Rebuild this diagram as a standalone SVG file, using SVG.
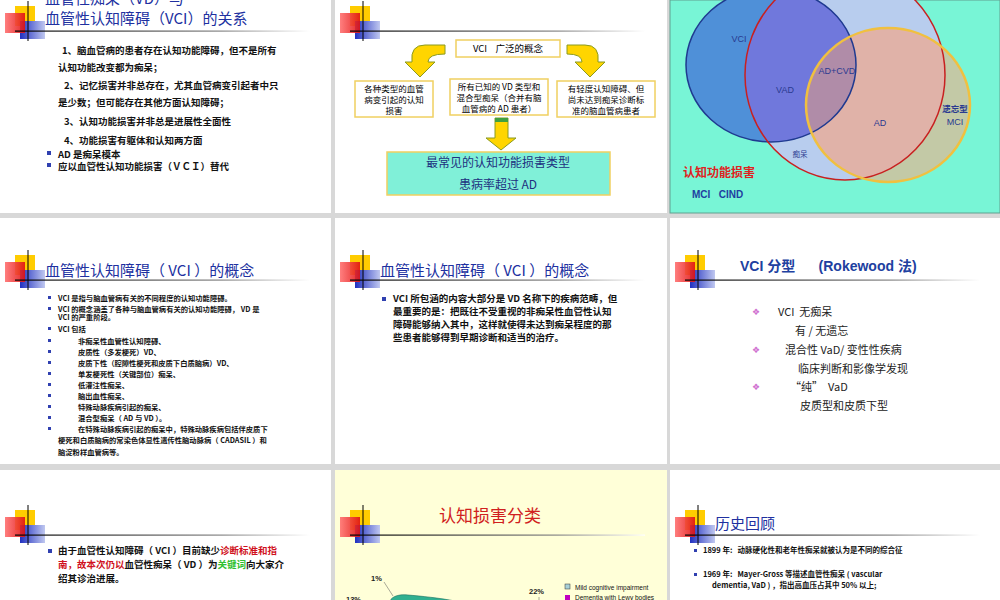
<svg xmlns="http://www.w3.org/2000/svg" width="1000" height="600" viewBox="0 0 1000 600">
<style>
text{white-space:pre}
.t{font-family:"Noto Sans CJK SC","Liberation Sans",sans-serif}
.h{font-family:"Noto Sans CJK SC",sans-serif;font-size:15px;fill:#2030a0}
.b{font-family:"Noto Sans CJK SC",sans-serif;font-size:9.5px;fill:#111;font-weight:bold}
.s{font-family:"Noto Sans CJK SC",sans-serif;font-size:7.3px;fill:#111;font-weight:bold}
.bx{fill:#fff;stroke:#f0d060;stroke-width:1.5}
.bl{fill:#3040b0}
.v{font-family:"Liberation Sans",sans-serif;font-size:9px;fill:#2a3a90}
</style>
<defs>
<linearGradient id="fade" x1="0" x2="1"><stop offset="0" stop-color="#000"/><stop offset="0.7" stop-color="#888"/><stop offset="1" stop-color="#fff"/></linearGradient>
<linearGradient id="rg" x1="0" x2="1"><stop offset="0" stop-color="#ff7070"/><stop offset="1" stop-color="#e01010"/></linearGradient>
<linearGradient id="bg" x1="0" x2="1"><stop offset="0" stop-color="#2030c0"/><stop offset="1" stop-color="#c0c8f0"/></linearGradient>
<symbol id="logo" overflow="visible">
<rect x="15" y="-25" width="20" height="20" fill="#ffcc00"/>
<rect x="20" y="-10" width="25" height="18" fill="url(#bg)"/>
<rect x="5" y="-18" width="20" height="20" fill="url(#rg)" opacity="0.9"/>
<line x1="28" y1="-30" x2="28" y2="10" stroke="#000" stroke-width="1"/>
<rect x="15" y="-0.5" width="295" height="1.2" fill="url(#fade)"/>
</symbol>
<clipPath id="cVCI"><ellipse cx="771" cy="65" rx="85" ry="77"/></clipPath>
<clipPath id="cRed"><ellipse cx="845" cy="75" rx="100" ry="105"/></clipPath>
<clipPath id="cYel"><ellipse cx="888" cy="105" rx="82" ry="77"/></clipPath>
</defs>
<rect width="1000" height="600" fill="#d8d8d8"/>

<g id="p1">
<rect x="0" y="0" width="331" height="213" fill="#fff"/>
<use href="#logo" x="0" y="31"/>
<text class="h" x="45" y="4">血管性痴呆（VD）与</text>
<text class="h" x="45" y="24">血管性认知障碍（VCI）的关系</text>
<g class="b">
<text x="62" y="54">1、脑血管病的患者存在认知功能障碍，但不是所有</text>
<text x="58" y="71">认知功能改变都为痴呆；</text>
<text x="64" y="89">2、记忆损害并非总存在，尤其血管病变引起者中只</text>
<text x="58" y="106">是少数；但可能存在其他方面认知障碍；</text>
<text x="64" y="125">3、认知功能损害并非总是进展性全面性</text>
<text x="64" y="144">4、功能损害有躯体和认知两方面</text>
<text x="58" y="158">AD 是痴呆模本</text>
<text x="58" y="170">应以血管性认知功能损害（ＶＣＩ）替代</text>
</g>
<rect class="bl" x="47" y="151" width="4" height="4"/><rect class="bl" x="47" y="163" width="4" height="4"/>
</g>

<g id="p2">
<rect x="335" y="0" width="332" height="213" fill="#fff"/>
<use href="#logo" x="335" y="31"/>
<g id="connectors">
<path d="M445,45 L425,45 Q410,45 412,62 L405,62 L420,77 L435,62 L428,62 Q428,54 445,54 Z" fill="#ffd500" stroke="#8a9a20" stroke-width="1"/>
<path d="M567,45 L585,45 Q600,45 598,62 L605,62 L590,77 L575,62 L582,62 Q582,54 567,54 Z" fill="#ffd500" stroke="#8a9a20" stroke-width="1"/>
<path d="M495,118 L508,118 L508,138 L516,138 L501,150 L486,138 L495,138 Z" fill="#ffd500" stroke="#8a9a20" stroke-width="1"/>
<rect x="495" y="118" width="13" height="4" fill="#40a040"/>
</g>
<g id="n_vci"><rect class="bx" x="456" y="40" width="104" height="17"/><text class="t" x="508" y="52" font-size="9.5" text-anchor="middle">VCI    广泛的概念</text></g>
<g id="n_a"><rect class="bx" x="355" y="81" width="78" height="36"/><g class="t" font-size="8.5" text-anchor="middle"><text x="394" y="92">各种类型的血管</text><text x="394" y="103">病变引起的认知</text><text x="394" y="114">损害</text></g></g>
<g id="n_b"><rect class="bx" x="450" y="79" width="98" height="36"/><g class="t" font-size="8.5" text-anchor="middle"><text x="499" y="90">所有已知的 VD 类型和</text><text x="499" y="101">混合型痴呆（合并有脑</text><text x="499" y="112">血管病的 AD 患者）</text></g></g>
<g id="n_c"><rect class="bx" x="557" y="81" width="98" height="36"/><g class="t" font-size="8.5" text-anchor="middle"><text x="606" y="92">有轻度认知障碍、但</text><text x="606" y="103">尚未达到痴呆诊断标</text><text x="606" y="114">准的脑血管病患者</text></g></g>
<g id="n_d"><rect x="387" y="152" width="223" height="43" fill="#80f0d8" stroke="#f0d060" stroke-width="1.5"/><g class="t" font-size="12" fill="#203080" text-anchor="middle"><text x="498" y="167">最常见的认知功能损害类型</text><text x="498" y="189">患病率超过 AD</text></g></g>
</g>

<g id="p3">
<rect x="670" y="0" width="330" height="213" fill="#78f5d6" stroke="#60a090"/>
<ellipse cx="845" cy="75" rx="100" ry="105" fill="#b8cdee"/>
<ellipse cx="771" cy="65" rx="85" ry="77" fill="#4f90d8"/>
<ellipse cx="845" cy="75" rx="100" ry="105" fill="#7078dc" clip-path="url(#cVCI)"/>
<ellipse cx="888" cy="105" rx="82" ry="77" fill="#c3c9a6"/>
<ellipse cx="845" cy="75" rx="100" ry="105" fill="#e0b2a8" clip-path="url(#cYel)"/>
<g clip-path="url(#cYel)"><ellipse cx="771" cy="65" rx="85" ry="77" fill="#b08ca8" clip-path="url(#cRed)"/></g>
<ellipse cx="771" cy="65" rx="85" ry="77" fill="none" stroke="#1f3a90" stroke-width="1.5"/>
<ellipse cx="845" cy="75" rx="100" ry="105" fill="none" stroke="#c82020" stroke-width="1.5"/>
<ellipse cx="888" cy="105" rx="82" ry="77" fill="none" stroke="#f0c040" stroke-width="2.5"/>
<text class="v" x="739" y="42" text-anchor="middle">VCI</text>
<text class="v" x="837" y="74" text-anchor="middle">AD+CVD</text>
<text class="v" x="785" y="93" text-anchor="middle">VAD</text>
<text class="v" x="880" y="126" text-anchor="middle">AD</text>
<text class="t" x="955" y="112" font-size="8.5" fill="#2a3a90" text-anchor="middle" font-weight="bold">遗忘型</text>
<text class="v" x="955" y="125" text-anchor="middle">MCI</text>
<text class="t" x="800" y="157" font-size="7.5" fill="#2a3a90" text-anchor="middle">痴呆</text>
<text class="t" x="683" y="177" font-size="12" fill="#e02020" font-weight="bold">认知功能损害</text>
<text x="692" y="198" font-family="Liberation Sans,sans-serif" font-size="10" font-weight="bold" fill="#2040a0">MCI   CIND</text>
</g>

<g id="p4">
<rect x="0" y="218" width="331" height="246" fill="#fff"/>
<use href="#logo" x="0" y="280"/>
<text class="h" x="45" y="276">血管性认知障碍（ VCI ）的概念</text>
<g class="s">
<text x="58" y="301">VCI 是指与脑血管病有关的不同程度的认知功能障碍。</text>
<text x="58" y="312">VCI 的概念涵盖了各种与脑血管病有关的认知功能障碍， VD 是</text>
<text x="58" y="320">VCI 的严重阶段。</text>
<text x="58" y="332">VCI 包括</text>
<text x="78" y="344">非痴呆性血管性认知障碍、</text>
<text x="78" y="355">皮质性（多发梗死）VD、</text>
<text x="78" y="366">皮质下性（腔隙性梗死和皮质下白质脑病）VD、</text>
<text x="78" y="377">单发梗死性（关键部位）痴呆、</text>
<text x="78" y="388">低灌注性痴呆、</text>
<text x="78" y="399">脑出血性痴呆、</text>
<text x="78" y="410">特殊动脉疾病引起的痴呆、</text>
<text x="78" y="421">混合型痴呆（ AD 与 VD ）。</text>
<text x="78" y="432">在特殊动脉疾病引起的痴呆中，特殊动脉疾病包括伴皮质下</text>
<text x="58" y="443">梗死和白质脑病的常染色体显性遗传性脑动脉病（ CADASIL ）和</text>
<text x="58" y="455">脑淀粉样血管病等。</text>
</g>
<g class="bl"><rect x="48" y="296" width="3" height="3"/><rect x="48" y="307" width="3" height="3"/><rect x="48" y="327" width="3" height="3"/><rect x="48" y="339" width="3" height="3"/><rect x="48" y="350" width="3" height="3"/><rect x="48" y="361" width="3" height="3"/><rect x="48" y="372" width="3" height="3"/><rect x="48" y="383" width="3" height="3"/><rect x="48" y="394" width="3" height="3"/><rect x="48" y="405" width="3" height="3"/><rect x="48" y="416" width="3" height="3"/><rect x="48" y="427" width="3" height="3"/></g>
</g>

<g id="p5">
<rect x="335" y="218" width="332" height="246" fill="#fff"/>
<use href="#logo" x="335" y="280"/>
<text class="h" x="380" y="276">血管性认知障碍（ VCI ）的概念</text>
<rect class="bl" x="382" y="297" width="4" height="4"/>
<g class="b">
<text x="393" y="302">VCI 所包涵的内容大部分是 VD 名称下的疾病范畴，但</text>
<text x="393" y="315">最重要的是：把既往不受重视的非痴呆性血管性认知</text>
<text x="393" y="328">障碍能够纳入其中，这样就使得未达到痴呆程度的那</text>
<text x="393" y="341">些患者能够得到早期诊断和适当的治疗。</text>
</g>
</g>

<g id="p6">
<rect x="670" y="218" width="330" height="246" fill="#fff"/>
<use href="#logo" x="670" y="280"/>
<text x="740" y="271" font-family="Liberation Sans,Noto Sans CJK SC,sans-serif" font-size="14" font-weight="bold" fill="#2040a0">VCI 分型      (Rokewood 法)</text>
<g font-family="Noto Sans CJK SC,sans-serif" font-size="11" fill="#222">
<text x="778" y="316">VCI  无痴呆</text>
<text x="795" y="335">有 / 无遗忘</text>
<text x="785" y="354">混合性 VaD/ 变性性疾病</text>
<text x="798" y="373">临床判断和影像学发现</text>
<text x="790" y="391">“纯”  VaD</text>
<text x="800" y="410">皮质型和皮质下型</text>
</g>
<g font-family="DejaVu Sans,sans-serif" font-size="9" fill="#d070d0"><text x="752" y="315">❖</text><text x="752" y="353">❖</text><text x="752" y="390">❖</text></g>
</g>

<g id="p7">
<rect x="0" y="470" width="331" height="130" fill="#fff"/>
<use href="#logo" x="0" y="535"/>
<rect class="bl" x="48" y="549" width="4" height="4"/>
<g class="b">
<text x="58" y="554">由于血管性认知障碍（ VCI ）目前缺少<tspan fill="#d01020">诊断标准和指</tspan></text>
<text x="58" y="568"><tspan fill="#d01020">南，故本次仍以</tspan>血管性痴呆（ VD ）为<tspan fill="#30c030">关键词</tspan>向大家介</text>
<text x="58" y="582">绍其诊治进展。</text>
</g>
</g>

<g id="p8">
<rect x="335" y="470" width="332" height="130" fill="#ffffd8"/>
<use href="#logo" x="335" y="535"/>
<text x="490" y="522" class="t" font-size="17" fill="#d02020" text-anchor="middle">认知损害分类</text>
<path d="M390,601 C392,596 400,594 408,595 C420,596 440,598 455,601 Z" fill="#30b090" stroke="#207060" stroke-width="0.6"/>
<g stroke="#555" stroke-width="0.5"><line x1="384" y1="582" x2="393" y2="596"/><line x1="539" y1="597" x2="539" y2="600"/></g>
<g font-family="Liberation Sans,sans-serif" font-size="7.5" font-weight="bold" fill="#222">
<text x="371" y="581">1%</text><text x="346" y="602">13%</text><text x="529" y="594">22%</text>
</g>
<rect x="565" y="584" width="5" height="5" fill="#a8d0d8" stroke="#333" stroke-width="0.5"/>
<rect x="565" y="595" width="5" height="5" fill="#c000c0"/>
<g font-family="Liberation Sans,sans-serif" font-size="6.5" fill="#111">
<text x="575" y="590">Mild cognitive impairment</text><text x="575" y="600">Dementia with Lewy bodies</text>
</g>
</g>

<g id="p9">
<rect x="670" y="470" width="330" height="130" fill="#fff"/>
<use href="#logo" x="670" y="535"/>
<text class="h" x="715" y="529">历史回顾</text>
<g class="bl"><rect x="694" y="549" width="3" height="3"/><rect x="694" y="573" width="3" height="3"/></g>
<g font-family="Noto Sans CJK SC,Liberation Mono,sans-serif" font-size="7.5" font-weight="bold" fill="#111">
<text x="703" y="553">1899 年:   动脉硬化性和老年性痴呆就被认为是不同的综合征</text>
<text x="703" y="577">1969 年:   Mayer-Gross 等描述血管性痴呆 ( vascular</text>
<text x="712" y="588">dementia, VaD ) ，指出高血压占其中 50% 以上;</text>
</g>
</g>
</svg>
